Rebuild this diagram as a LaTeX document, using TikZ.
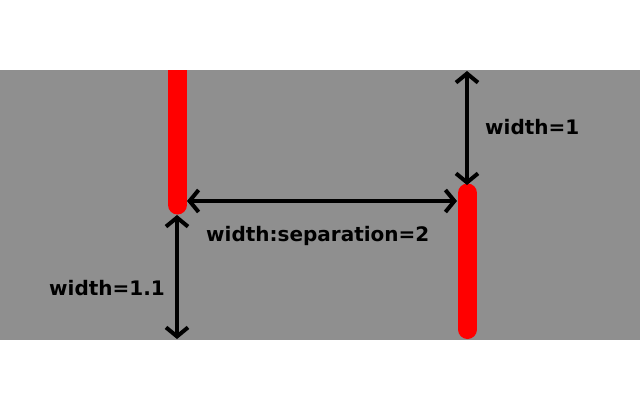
\documentclass[tikz,border=0pt]{standalone}
\usepackage{fontspec}
\setmainfont{DejaVu Sans}
\usetikzlibrary{arrows.meta}
\definecolor{bg}{RGB}{143,143,143}
\begin{document}
\begin{tikzpicture}[x=1pt,y=-1pt,
  redline/.style={draw=red,line width=19pt,line cap=round},
  dim/.style={draw=black,line width=4pt,{Straight Barb[length=9pt,width=22pt]}-{Straight Barb[length=9pt,width=22pt]}},
  lbl/.style={anchor=base west,inner sep=0pt,font=\fontsize{20}{23}\selectfont\bfseries}]
\useasboundingbox (0,0) rectangle (640,400);
\fill[bg] (0,70) rectangle (640,340);
\begin{scope}
\clip (0,70) rectangle (640,340);
\coordinate (r1a) at (177.5,55);
\coordinate (r1b) at (177.5,205);
\coordinate (r2a) at (467.5,193);
\coordinate (r2b) at (467.5,329.5);
\draw[redline] (r1a) -- (r1b);
\draw[redline] (r2a) -- (r2b);
\end{scope}
\coordinate (h1) at (187,201);
\coordinate (h2) at (457,201);
\coordinate (v1a) at (177,215);
\coordinate (v1b) at (177,339);
\coordinate (v2a) at (467,71);
\coordinate (v2b) at (467,185);
\draw[dim] (h1) -- (h2);
\draw[dim] (v1a) -- (v1b);
\draw[dim] (v2a) -- (v2b);
\node[lbl] (l1) at (485,134) {width=1};
\node[lbl] (l2) at (206,241) {width:separation=2};
\node[lbl] (l3) at (49,295) {width=1.1};
\end{tikzpicture}
\end{document}
